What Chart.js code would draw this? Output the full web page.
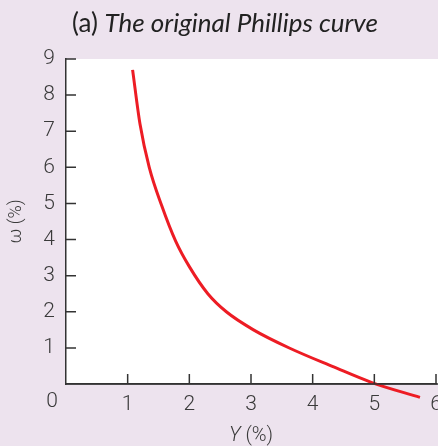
<!DOCTYPE html>
<html>
<head>
<meta charset="utf-8">
<script src="https://cdn.jsdelivr.net/npm/chart.js@4.4.0/dist/chart.umd.min.js"></script>
<style>
  html, body { margin: 0; padding: 0; background: #ede3ee; }
  canvas { display: block; }
</style>
</head>
<body>
<canvas id="myChart" width="438" height="446"></canvas>
<script>
// valeurs
var valeursY = [1.08, 1.2, 1.35, 1.55, 1.78, 2.0, 2.3, 2.6, 3.04, 3.63, 4.33, 4.96, 5.74];
var valeursW = [8.7, 7.2, 6.0, 4.95, 3.95, 3.25, 2.5, 2.0, 1.5, 0.99, 0.48, 0.04, -0.37];
var ticksX = [0, 1, 2, 3, 4, 5, 6];
var ticksW = [0, 1, 2, 3, 4, 5, 6, 7, 8, 9];

var fondLavande = '#ede3ee';
var couleurTexte = '#3a3a3a';
var policeChiffres = 'Roboto';

var points = [];
for (var i = 0; i < valeursY.length; i++) {
    points.push({ x: valeursY[i], y: valeursW[i] });
}

// fond blanc, petites graduations, titre et textes en italique
var decor = {
    id: 'decor',
    beforeDraw: function (chart) {
        var ctx = chart.ctx;
        var a = chart.chartArea;
        ctx.save();
        ctx.fillStyle = fondLavande;
        ctx.fillRect(0, 0, chart.width, chart.height);
        ctx.fillStyle = '#ffffff';
        ctx.fillRect(a.left, a.top, chart.width - a.left, a.bottom - a.top);
        ctx.restore();
    },
    afterDraw: function (chart) {
        var ctx = chart.ctx;
        var a = chart.chartArea;
        var sx = chart.scales.x;
        var sy = chart.scales.y;
        ctx.save();
        ctx.strokeStyle = '#333333';
        ctx.lineWidth = 1.5;
        ctx.beginPath();
        ticksX.forEach(function (v) {
            if (v === 0) return;
            var px = sx.getPixelForValue(v);
            ctx.moveTo(px, a.bottom);
            ctx.lineTo(px, a.bottom - 10);
        });
        ticksW.forEach(function (v) {
            if (v === 0) return;
            var py = sy.getPixelForValue(v);
            ctx.moveTo(a.left, py);
            ctx.lineTo(a.left + 10, py);
        });
        // axe x prolongé jusqu'au bord
        ctx.moveTo(a.left, a.bottom);
        ctx.lineTo(chart.width, a.bottom);
        ctx.stroke();

        // origine
        ctx.fillStyle = couleurTexte;
        ctx.font = '300 21px ' + policeChiffres;
        ctx.textAlign = 'center';
        ctx.textBaseline = 'middle';
        ctx.fillText('0', a.left - 14, a.bottom + 18);

        // titre
        var t1 = '(a) ';
        var t2 = 'The original Phillips curve';
        ctx.font = '26px Lato';
        var w1 = ctx.measureText(t1).width;
        ctx.font = 'italic 26px Lato';
        var w2 = ctx.measureText(t2).width;
        var x0 = 225 - (w1 + w2) / 2;
        ctx.textAlign = 'left';
        ctx.textBaseline = 'alphabetic';
        ctx.fillStyle = '#222222';
        ctx.font = '26px Lato';
        ctx.fillText(t1, x0, 32);
        ctx.font = 'italic 26px Lato';
        ctx.fillText(t2, x0 + w1, 32);

        // titre de l'axe x
        var cx = (a.left + a.right) / 2;
        ctx.fillStyle = couleurTexte;
        ctx.font = 'italic 300 20px ' + policeChiffres;
        var wy = ctx.measureText('Y').width;
        ctx.font = '300 20px ' + policeChiffres;
        var wp = ctx.measureText(' (%)').width;
        var xs = cx - (wy + wp) / 2;
        ctx.textBaseline = 'middle';
        ctx.font = 'italic 300 20px ' + policeChiffres;
        ctx.fillText('Y', xs, 436);
        ctx.font = '300 20px ' + policeChiffres;
        ctx.fillText(' (%)', xs + wy, 436);
        ctx.restore();
    }
};

var ctx = document.getElementById('myChart').getContext('2d');
var myChart = new Chart(ctx, {
    type: 'line',
    data: {
        datasets: [{
            label: 'Courbe de Phillips',
            data: points,
            borderColor: '#ed1c24',
            borderWidth: 3,
            pointRadius: 0,
            fill: false,
            cubicInterpolationMode: 'monotone',
            clip: false
        }]
    },
    options: {
        responsive: false,
        animation: false,
        layout: { padding: { top: 59, right: 2, left: 0, bottom: 0 } },
        plugins: {
            legend: { display: false },
            tooltip: { enabled: false }
        },
        scales: {
            x: {
                type: 'linear',
                position: 'bottom',
                min: 0,
                max: 6,
                afterFit: function (s) { s.height = 62; s.paddingLeft = 0; s.paddingRight = 0; },
                afterBuildTicks: function (s) {
                    s.ticks = ticksX.map(function (v) { return { value: v }; });
                },
                grid: { display: false, drawTicks: false },
                border: { display: true, color: '#333333', width: 1.5 },
                ticks: {
                    padding: 8,
                    maxRotation: 0,
                    color: couleurTexte,
                    font: { family: policeChiffres, size: 21, weight: '300' },
                    callback: function (v) { return v === 0 ? '' : String(v); }
                }
            },
            y: {
                type: 'linear',
                position: 'left',
                min: 0,
                max: 9,
                afterFit: function (s) { s.width = 66; s.paddingTop = 0; s.paddingBottom = 0; },
                afterBuildTicks: function (s) {
                    s.ticks = ticksW.map(function (v) { return { value: v }; });
                },
                grid: { display: false, drawTicks: false },
                border: { display: true, color: '#333333', width: 1.5 },
                title: {
                    display: true,
                    text: 'ω (%)',
                    color: couleurTexte,
                    padding: { top: 6, bottom: 0 },
                    font: { family: policeChiffres, size: 18, weight: '300' }
                },
                ticks: {
                    padding: 11,
                    color: couleurTexte,
                    font: { family: policeChiffres, size: 21, weight: '300' },
                    callback: function (v) { return v === 0 ? '' : String(v); }
                }
            }
        }
    },
    plugins: [decor]
});
</script>
</body>
</html>
